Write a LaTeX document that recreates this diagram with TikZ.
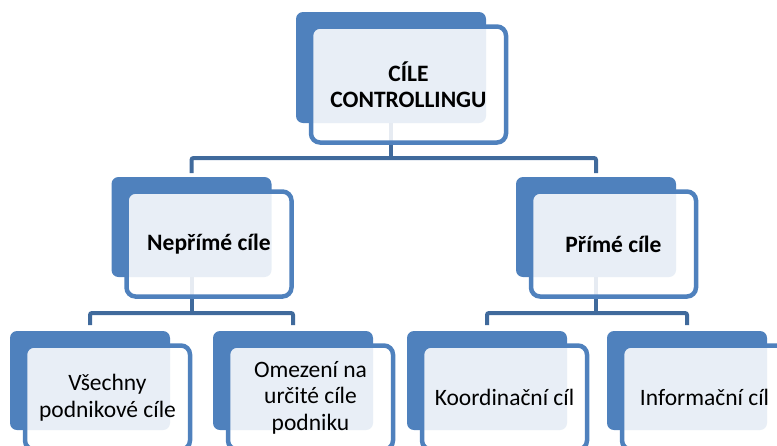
\documentclass[tikz,border=0pt]{standalone}
\usepackage{fontspec}
\setmainfont{Carlito}
\definecolor{accent}{RGB}{79,129,189}
\definecolor{linkblue}{RGB}{64,106,156}
\pgfdeclarelayer{background}
\pgfsetlayers{background,main}
\tikzset{
  backbox/.style={rectangle, rounded corners=7pt, fill=accent, inner sep=0pt, outer sep=0pt},
  frontbox/.style={rectangle, rounded corners=9pt, draw=accent, line width=4.5pt,
    fill=white, fill opacity=0.87, text opacity=1, inner sep=0pt, outer sep=0pt,
    align=center, font=\fontsize{23.5}{26.5}\selectfont},
  headbox/.style={frontbox, font=\fontsize{23.5}{26.5}\selectfont\bfseries},
  link/.style={draw=linkblue, line width=4pt, rounded corners=2pt},
}
\begin{document}
\begin{tikzpicture}[x=1pt,y=-1pt]
\useasboundingbox (0,0) rectangle (777,445);
\clip (0,0) rectangle (777,445);

% back plates
\node[backbox, minimum width=190pt, minimum height=111pt] (topB) at (391,67.5) {};
\node[backbox, minimum width=160pt, minimum height=100pt] (leftB) at (191.5,227) {};
\node[backbox, minimum width=160pt, minimum height=100pt] (rightB) at (596,227) {};
\node[backbox, minimum width=160pt, minimum height=99pt] (allB) at (90,380.5) {};
\node[backbox, minimum width=160pt, minimum height=99pt] (limB) at (293,380.5) {};
\node[backbox, minimum width=160pt, minimum height=99pt] (coordB) at (487,380.5) {};
\node[backbox, minimum width=160pt, minimum height=99pt] (infoB) at (687,380.5) {};

% front cards with the labels
\node[headbox, minimum width=195pt, minimum height=116pt] (topF) at (408.5,84.5) {CÍLE\\CONTROLLINGU};
\node[headbox, minimum width=165pt, minimum height=105pt] (leftF) at (209,244) {Nepřímé cíle};
\node[headbox, minimum width=165pt, minimum height=105pt] (rightF) at (613.5,244) {Přímé cíle};
\node[frontbox, minimum width=165pt, minimum height=104pt] (allF) at (107.5,397.5) {Všechny\\podnikové cíle};
\node[frontbox, minimum width=165pt, minimum height=104pt] (limF) at (310.5,397.5) {Omezení na\\určité cíle\\podniku};
\node[frontbox, minimum width=165pt, minimum height=104pt] (coordF) at (504.5,397.5) {Koordinační cíl};
\node[frontbox, minimum width=165pt, minimum height=104pt] (infoF) at (704.5,397.5) {Informační cíl};

% bus levels of the tree
\coordinate (busTop) at (391,158);
\coordinate (busLeft) at (191.5,313);
\coordinate (busRight) at (596,313);

\begin{pgfonlayer}{background}
  \draw[link] (topB.south) -- (busTop);
  \draw[link] ([yshift=4pt]leftB.north) |- (busTop) -| ([yshift=4pt]rightB.north);
  \draw[link] (leftB.south) -- (busLeft);
  \draw[link] ([yshift=6pt]allB.north) |- (busLeft) -| ([yshift=6pt]limB.north);
  \draw[link] (rightB.south) -- (busRight);
  \draw[link] ([yshift=6pt]coordB.north) |- (busRight) -| ([yshift=6pt]infoB.north);
\end{pgfonlayer}
\end{tikzpicture}
\end{document}
